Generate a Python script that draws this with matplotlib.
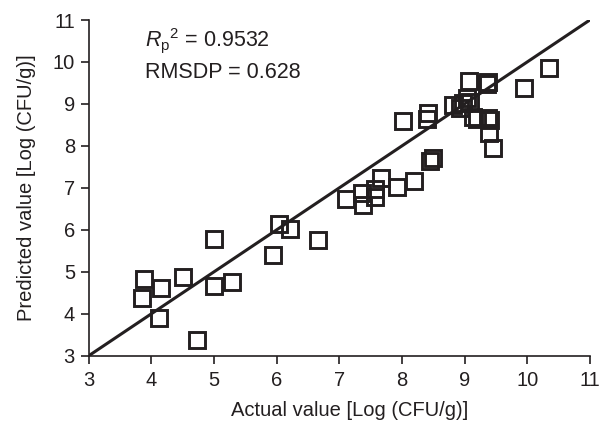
import matplotlib
matplotlib.use("Agg")
import matplotlib.pyplot as plt

plt.rcParams['font.family'] = ['Liberation Sans', 'DejaVu Sans']
plt.rcParams['mathtext.fontset'] = 'custom'
plt.rcParams['mathtext.it'] = 'Liberation Sans:italic'
plt.rcParams['mathtext.rm'] = 'Liberation Sans'

# actual vs predicted values, Log (CFU/g)
actual = [3.88, 3.85, 4.16, 4.12, 4.50, 4.72, 5.00, 5.00, 5.28, 5.94, 6.04, 6.21, 6.66,
          7.11, 7.36, 7.38, 7.57, 7.57, 7.66, 7.92, 8.19, 8.45, 8.50,
          8.02, 8.40, 8.42, 8.81, 8.93, 8.97, 9.04, 9.09, 9.07, 9.13, 9.20,
          9.36, 9.37, 9.37, 9.40, 9.39, 9.45, 9.95, 10.35]
predicted = [4.83, 4.38, 4.61, 3.90, 4.88, 3.37, 5.78, 4.66, 4.76, 5.40, 6.14, 6.02, 5.76,
             6.73, 6.87, 6.59, 6.97, 6.78, 7.23, 7.02, 7.16, 7.64, 7.72,
             8.59, 8.64, 8.78, 8.97, 8.90, 9.03, 9.14, 9.05, 9.55, 8.69, 8.64,
             9.47, 9.52, 8.66, 8.62, 8.31, 7.95, 9.38, 9.86]
ticks = [3, 4, 5, 6, 7, 8, 9, 10, 11]

ink = "#231f20"

fig = plt.figure(figsize=(6, 4.26), dpi=100)
ax = fig.add_axes([0.148, 0.165, 0.835, 0.788])

ax.plot([3, 11], [3, 11], color=ink, linewidth=2.2)
ax.plot(actual, predicted, linestyle="none", marker="s", markersize=11,
        markerfacecolor="none", markeredgecolor=ink, markeredgewidth=2.1)

ax.set_xlim(3, 11)
ax.set_ylim(3, 11)
ax.set_xticks(ticks)
ax.set_yticks(ticks)
ax.tick_params(direction="out", length=6, width=1.2, labelsize=14.5, colors=ink)
ax.tick_params(axis="x", pad=5)
ax.tick_params(axis="y", pad=4)
for side in ["top", "right"]:
    ax.spines[side].set_visible(False)
for side in ["left", "bottom"]:
    ax.spines[side].set_linewidth(1.2)
    ax.spines[side].set_color(ink)

ax.set_xlabel("Actual value [Log (CFU/g)]", fontsize=14.5, color=ink)
ax.xaxis.set_label_coords(0.52, -0.136)
ax.set_ylabel("Predicted value [Log (CFU/g)]", fontsize=14.5, color=ink, labelpad=12)

ax.text(3.9, 10.52, r"$R_\mathrm{p}$$^2$ = 0.9532", fontsize=15.5, color=ink, va="center")
ax.text(3.9, 9.76, "RMSDP = 0.628", fontsize=15.5, color=ink, va="center")

fig.savefig("out.png", dpi=100)
